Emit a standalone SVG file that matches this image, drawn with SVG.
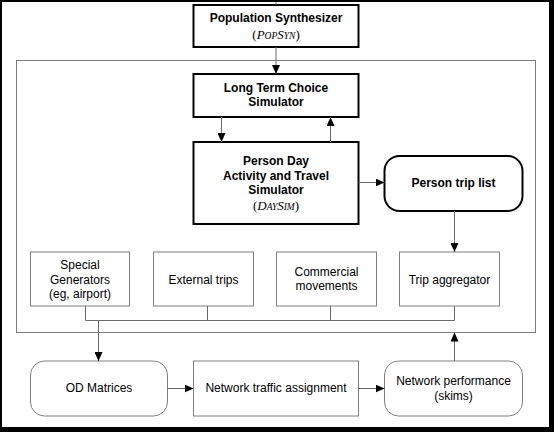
<svg xmlns="http://www.w3.org/2000/svg" width="554" height="432" viewBox="0 0 554 432">
<style>
.bold{fill:#fff;stroke:#000;stroke-width:2}
.plain{fill:#fff;stroke:#7f7f7f;stroke-width:1}
.tb{font-family:"Liberation Sans",Arial,sans-serif;font-size:12px;font-weight:bold;fill:#000;text-anchor:middle}
.tr{font-family:"Liberation Sans",Arial,sans-serif;font-size:12px;fill:#000;text-anchor:middle}
.ts{font-family:"Liberation Serif","Times New Roman",serif;font-size:13px;fill:#000;text-anchor:middle}
.it{font-style:italic}
.sc{font-size:9.5px;font-style:italic}
.ln{fill:none;stroke:#6a6a6a;stroke-width:1}
</style>
<defs>
<marker id="ah" markerWidth="9" markerHeight="8" refX="9" refY="4" orient="auto" markerUnits="userSpaceOnUse">
<path d="M0,0 L9,4 L0,8 Z" fill="#000"/>
</marker>
</defs>
<rect x="0" y="0" width="554" height="432" fill="#000"/>
<rect x="2" y="2" width="547" height="425" fill="#fff"/>
<rect id="frame" x="16.5" y="60.5" width="519" height="272" fill="none" stroke="#7f7f7f" stroke-width="1"/>

<g id="popsyn">
<rect class="bold" x="193.5" y="5" width="165" height="42"/>
<text class="tb" x="276" y="22">Population Synthesizer</text>
<text class="ts" x="276" y="39">(<tspan class="it">P</tspan><tspan class="sc">OP</tspan><tspan class="it">S</tspan><tspan class="sc">YN</tspan>)</text>
</g>
<g id="ltcs">
<rect class="bold" x="193.5" y="74" width="165" height="43"/>
<text class="tb" x="276" y="92">Long Term Choice</text>
<text class="tb" x="276" y="106">Simulator</text>
</g>
<g id="daysim">
<rect class="bold" x="193.5" y="142" width="165" height="82"/>
<text class="tb" x="276" y="164.5">Person Day</text>
<text class="tb" x="276" y="179.5">Activity and Travel</text>
<text class="tb" x="276" y="194">Simulator</text>
<text class="ts" x="276" y="209.5">(<tspan class="it">D</tspan><tspan class="sc">AY</tspan><tspan class="it">S</tspan><tspan class="sc">IM</tspan>)</text>
</g>
<g id="ptl">
<rect class="bold" x="384.5" y="156" width="138" height="55" rx="15" ry="15"/>
<text class="tb" x="453.5" y="187">Person trip list</text>
</g>
<g id="sg">
<rect class="plain" x="30.5" y="252" width="99" height="54"/>
<text class="tr" x="80" y="268.5">Special</text>
<text class="tr" x="80" y="283.5">Generators</text>
<text class="tr" x="80" y="298">(eg, airport)</text>
</g>
<g id="et">
<rect class="plain" x="153.5" y="252" width="100" height="54"/>
<text class="tr" x="203.5" y="283.5">External trips</text>
</g>
<g id="cm">
<rect class="plain" x="276.5" y="252" width="100" height="54"/>
<text class="tr" x="326.5" y="276">Commercial</text>
<text class="tr" x="326.5" y="290">movements</text>
</g>
<g id="ta">
<rect class="plain" x="399.5" y="252" width="100" height="54"/>
<text class="tr" x="449.5" y="283.5">Trip aggregator</text>
</g>
<g id="od">
<rect class="plain" x="30.5" y="361" width="137" height="55" rx="14" ry="14"/>
<text class="tr" x="99" y="392">OD Matrices</text>
</g>
<g id="nta">
<rect class="plain" x="193.5" y="361" width="165" height="55"/>
<text class="tr" x="276" y="392">Network traffic assignment</text>
</g>
<g id="np">
<rect class="plain" x="384.5" y="361" width="138" height="55" rx="14" ry="14"/>
<text class="tr" x="453.5" y="385">Network performance</text>
<text class="tr" x="453.5" y="399.5">(skims)</text>
</g>

<g id="connectors">
<path class="ln" d="M276,2 V5"/>
<path class="ln" d="M276,47 V74" marker-end="url(#ah)"/>
<path class="ln" d="M221.5,117 V142" marker-end="url(#ah)"/>
<path class="ln" d="M330.5,142 V117" marker-end="url(#ah)"/>
<path class="ln" d="M358.5,182.5 H384.5" marker-end="url(#ah)"/>
<path class="ln" d="M454.5,211 V252" marker-end="url(#ah)"/>
<path class="ln" d="M85.5,306 V320.5 H454.5 V306 M207.5,306 V320.5 M330.5,306 V320.5"/>
<path class="ln" d="M98.5,320.5 V361" marker-end="url(#ah)"/>
<path class="ln" d="M167.5,388.5 H193.5" marker-end="url(#ah)"/>
<path class="ln" d="M358.5,388.5 H384.5" marker-end="url(#ah)"/>
<path class="ln" d="M454.5,361 V332.5" marker-end="url(#ah)"/>
</g>
</svg>
